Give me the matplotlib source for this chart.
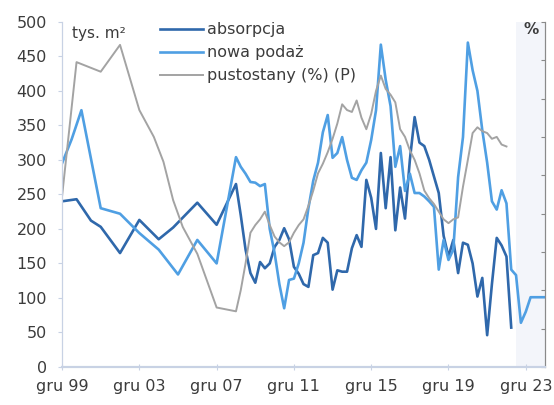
import pandas as pd
import matplotlib.pyplot as plt

plt.rcParams['font.family'] = ['DejaVu Sans']
plt.rcParams['font.size'] = 11.5
plt.rcParams['text.color'] = '#3c3c3c'

# lata 1999-2008: dane roczne/półroczne, potem kwartalne
absorpcja_wczesne_kw = ['1999Q4', '2000Q3', '2001Q2', '2001Q4', '2002Q4', '2003Q4',
                        '2004Q4', '2005Q3', '2006Q4', '2007Q4', '2008Q4']
absorpcja_wczesne = [240, 243, 212, 203, 165, 213, 185, 202, 238, 206, 265]
absorpcja_od = '2009Q1'
absorpcja = [220, 170, 136, 122, 152, 143, 150, 174, 184, 201,
             185, 145, 135, 120, 116, 162, 165, 187, 180, 112,
             140, 138, 138, 172, 191, 174, 271, 245, 200, 310,
             230, 304, 198, 260, 215, 300, 362, 325, 320, 300,
             276, 252, 190, 160, 184, 136, 180, 177, 150, 102,
             129, 46, 120, 187, 176, 160, 57]

podaz_wczesne_kw = ['1999Q4', '2000Q2', '2000Q4', '2001Q4', '2002Q4', '2003Q4',
                    '2004Q4', '2005Q4', '2006Q4', '2007Q4', '2008Q4']
podaz_wczesne = [295, 330, 372, 230, 222, 194, 170, 134, 184, 150, 304]
podaz_od = '2009Q1'
podaz = [290, 280, 268, 267, 262, 265, 200, 165, 120, 85,
         126, 128, 150, 180, 230, 270, 296, 340, 365, 303,
         310, 333, 300, 274, 271, 285, 296, 329, 372, 467,
         416, 378, 290, 320, 255, 280, 252, 252, 247, 240,
         232, 141, 184, 155, 170, 275, 333, 470, 430, 400,
         343, 296, 240, 228, 256, 237, 141, 133, 64, 80,
         101, 101, 101, 101]

# pustostany, % (prawa oś)
pustostany_wczesne_kw = ['1999Q4', '2000Q3', '2001Q4', '2002Q4', '2003Q4', '2004Q3',
                         '2005Q1', '2005Q3', '2006Q1', '2006Q4', '2007Q4', '2008Q4']
pustostany_wczesne = [8.9, 15.9, 15.4, 16.8, 13.4, 12.0, 10.7, 8.7, 7.3, 5.9, 3.1, 2.9]
pustostany_od = '2009Q1'
pustostany = [4.0, 5.4, 7.0, 7.4, 7.7, 8.1, 7.4, 6.8, 6.5, 6.3,
              6.5, 7.0, 7.4, 7.7, 8.4, 9.2, 10.1, 10.6, 11.2, 11.9,
              12.7, 13.7, 13.4, 13.3, 13.9, 13.0, 12.4, 13.2, 14.4, 15.2,
              14.5, 14.2, 13.8, 12.4, 12.0, 11.3, 10.8, 10.1, 9.2, 8.8,
              8.5, 8.1, 7.7, 7.5, 7.7, 7.8, 9.4, 10.8, 12.2, 12.5,
              12.3, 12.2, 11.9, 12.0, 11.6, 11.5]

etykiety_x = ['gru 99', 'gru 03', 'gru 07', 'gru 11', 'gru 15', 'gru 19', 'gru 23']
daty_x = ['1999-12-31', '2003-12-31', '2007-12-31', '2011-12-31',
          '2015-12-31', '2019-12-31', '2023-12-31']
prognoza_od = '2023-06-30'


def szereg(wczesne_kw, wczesne, od, kwartalne):
    okresy = list(pd.PeriodIndex(wczesne_kw, freq='Q')) + \
        list(pd.period_range(od, periods=len(kwartalne), freq='Q'))
    daty = pd.PeriodIndex(okresy, freq='Q').end_time.normalize()
    return daty, wczesne + kwartalne


x_abs, y_abs = szereg(absorpcja_wczesne_kw, absorpcja_wczesne, absorpcja_od, absorpcja)
x_pod, y_pod = szereg(podaz_wczesne_kw, podaz_wczesne, podaz_od, podaz)
x_pus, y_pus = szereg(pustostany_wczesne_kw, pustostany_wczesne, pustostany_od, pustostany)

fig = plt.figure(figsize=(5.54, 4.05), dpi=100)
ax = fig.add_axes([0.112, 0.094, 0.872, 0.852])
ax2 = ax.twinx()

ax.axvspan(pd.Timestamp(prognoza_od), pd.Timestamp('2024-12-31'),
           color='#f3f5fa', lw=0, zorder=0)

l1, = ax.plot(x_abs, y_abs, color='#2f68ab', lw=1.9, label='absorpcja')
l2, = ax.plot(x_pod, y_pod, color='#4f9fe3', lw=1.9, label='nowa podaż')
l3, = ax2.plot(x_pus, y_pus, color='#a3a3a3', lw=1.4, label='pustostany (%) (P)')

ax.set_xlim(pd.Timestamp('1999-12-31'), pd.Timestamp('2024-12-31'))
ax.set_ylim(0, 500)
ax.set_yticks(range(0, 501, 50))
ax2.set_ylim(0, 18)
ax2.set_yticks(range(0, 19, 2))
ax2.tick_params(axis='y', labelright=False, direction='in', length=3, color='#8a8a8a')

ax.set_xticks(pd.to_datetime(daty_x))
ax.set_xticklabels(etykiety_x)
ax.tick_params(axis='x', direction='inout', length=4, pad=7, color='#c8d2e4',
               labelcolor='#3c3c3c')
ax.tick_params(axis='y', direction='out', length=3, pad=8, color='#c8d2e4',
               labelcolor='#3c3c3c')

for a in (ax, ax2):
    a.spines['top'].set_visible(False)
    a.spines['left'].set_color('#c8d2e4')
    a.spines['bottom'].set_color('#c8d2e4')
    a.spines['right'].set_color('#8a8a8a')
    a.spines['bottom'].set_linewidth(1.5)

ax2.legend(handles=[l1, l2, l3], loc='upper left', bbox_to_anchor=(0.289, 0.945),
           bbox_transform=fig.transFigure, frameon=False, borderpad=0,
           borderaxespad=0, handlelength=2.7, handletextpad=0.25,
           labelspacing=0.5, fontsize=11.5)

fig.text(0.179, 0.918, 'tys. m²', ha='center', va='center', fontsize=11)
fig.text(0.958, 0.926, '%', ha='center', va='center', fontsize=11, fontweight='bold')

fig.savefig('out.png', dpi=100)
